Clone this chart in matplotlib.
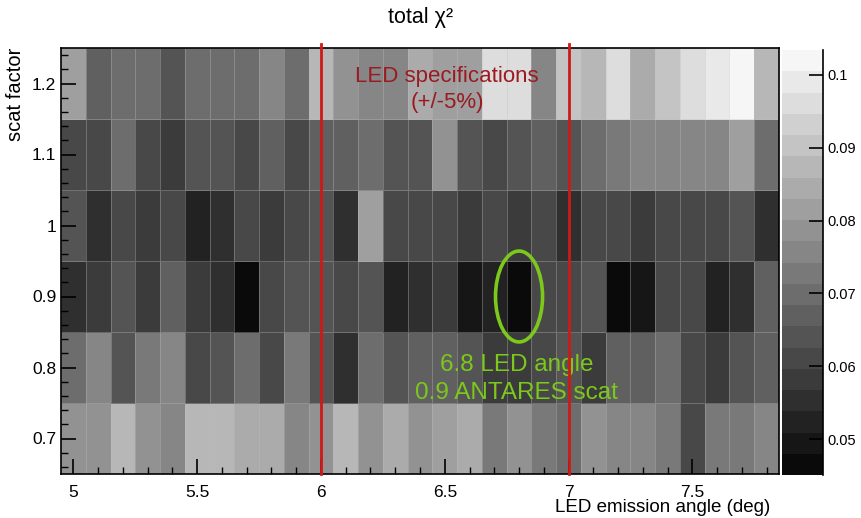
import numpy as np
import matplotlib
matplotlib.use("Agg")
import matplotlib.pyplot as plt
from matplotlib.colors import LinearSegmentedColormap, BoundaryNorm
from matplotlib.patches import Ellipse
from matplotlib.ticker import MultipleLocator

plt.rcParams['font.family'] = ['Liberation Sans', 'DejaVu Sans']

#### data: total chi2 per (LED emission angle, scat factor) bin
angles = [5.0, 5.1, 5.2, 5.3, 5.4, 5.5, 5.6, 5.7, 5.8, 5.9,
          6.0, 6.1, 6.2, 6.3, 6.4, 6.5, 6.6, 6.7, 6.8, 6.9,
          7.0, 7.1, 7.2, 7.3, 7.4, 7.5, 7.6, 7.7, 7.8]
scat = [0.7, 0.8, 0.9, 1.0, 1.1, 1.2]

chi2_070 = [0.0791, 0.0791, 0.0882, 0.0791, 0.0757, 0.0871, 0.0860, 0.0848, 0.0848, 0.0769,
            0.0780, 0.0860, 0.0791, 0.0837, 0.0780, 0.0803, 0.0848, 0.0734, 0.0791, 0.0723,
            0.0689, 0.0791, 0.0769, 0.0746, 0.0723, 0.0598, 0.0734, 0.0734, 0.0757]
chi2_080 = [0.0700, 0.0769, 0.0632, 0.0723, 0.0746, 0.0598, 0.0632, 0.0712, 0.0598, 0.0723,
            0.0655, 0.0564, 0.0689, 0.0655, 0.0666, 0.0666, 0.0655, 0.0587, 0.0587, 0.0609,
            0.0632, 0.0575, 0.0678, 0.0678, 0.0700, 0.0609, 0.0575, 0.0632, 0.0678]
chi2_090 = [0.0552, 0.0587, 0.0655, 0.0587, 0.0678, 0.0587, 0.0541, 0.0477, 0.0621, 0.0632,
            0.0643, 0.0598, 0.0632, 0.0514, 0.0564, 0.0587, 0.0507, 0.0530, 0.0462, 0.0609,
            0.0621, 0.0643, 0.0473, 0.0507, 0.0609, 0.0621, 0.0530, 0.0541, 0.0666]
chi2_100 = [0.0655, 0.0541, 0.0609, 0.0587, 0.0598, 0.0514, 0.0564, 0.0621, 0.0587, 0.0621,
            0.0643, 0.0541, 0.0825, 0.0621, 0.0621, 0.0609, 0.0587, 0.0609, 0.0587, 0.0598,
            0.0564, 0.0621, 0.0609, 0.0587, 0.0621, 0.0609, 0.0621, 0.0643, 0.0564]
chi2_110 = [0.0621, 0.0598, 0.0689, 0.0598, 0.0575, 0.0632, 0.0643, 0.0598, 0.0678, 0.0598,
            0.0666, 0.0666, 0.0689, 0.0632, 0.0632, 0.0791, 0.0643, 0.0621, 0.0655, 0.0666,
            0.0643, 0.0712, 0.0723, 0.0746, 0.0757, 0.0769, 0.0746, 0.0825, 0.0689]
chi2_120 = [0.0825, 0.0666, 0.0689, 0.0689, 0.0632, 0.0689, 0.0700, 0.0689, 0.0746, 0.0700,
            0.0882, 0.0791, 0.0769, 0.0746, 0.0837, 0.0814, 0.0803, 0.0951, 0.0951, 0.0769,
            0.0894, 0.0860, 0.0962, 0.0848, 0.0905, 0.0973, 0.0996, 0.1019, 0.0882]

zmin, zmax, nlev = 0.0451, 0.1034, 20

Z = np.array([chi2_070, chi2_080, chi2_090, chi2_100, chi2_110, chi2_120])
xc = np.array(angles)
yc = np.array(scat)
xe = np.append(xc - 0.05, xc[-1] + 0.05)
ye = np.append(yc - 0.05, yc[-1] + 0.05)

cmap = LinearSegmentedColormap.from_list('rootgray', ['#0a0a0a', '#f6f6f6'])
levels = np.linspace(zmin, zmax, nlev + 1)
norm = BoundaryNorm(levels, cmap.N)

fig = plt.figure(figsize=(8.61, 5.18), dpi=100)
ax = fig.add_axes([61/861, 1 - 474/518, 718/861, 426/518])

ax.pcolormesh(xe, ye, Z, cmap=cmap, norm=norm, edgecolors=(0.75, 0.75, 0.75, 0.35), linewidth=0.6)
ax.set_xlim(xe[0], xe[-1])
ax.set_ylim(ye[0], ye[-1])

# LED specification band
red = '#d01818'
for xv in (6.0, 7.0):
    ax.plot([xv, xv], [ye[0], ye[-1] + 0.006], color=red, lw=2, clip_on=False, zorder=5)
ax.text(6.51, 1.21, 'LED specifications', color='#9a1a22', fontsize=16, ha='center', va='center')
ax.text(6.51, 1.173, '(+/-5%)', color='#9a1a22', fontsize=16, ha='center', va='center')

# best fit marker
green = '#7cc81c'
ax.add_patch(Ellipse((6.8, 0.9), 0.19, 0.128, fill=False, ec=green, lw=2.6, zorder=6))
ax.text(6.79, 0.8035, '6.8 LED angle', color=green, fontsize=17.5, ha='center', va='center')
ax.text(6.79, 0.764, '0.9 ANTARES scat', color=green, fontsize=17.5, ha='center', va='center')

# ROOT-like axes
ax.xaxis.set_major_locator(MultipleLocator(0.5))
ax.xaxis.set_minor_locator(MultipleLocator(0.1))
ax.yaxis.set_major_locator(MultipleLocator(0.1))
ax.yaxis.set_minor_locator(MultipleLocator(0.02))
ax.tick_params(which='both', direction='in', top=False, right=False, labelsize=12.5)
ax.tick_params(which='major', length=11, width=1.2)
ax.tick_params(which='minor', length=5, width=1)
ax.tick_params(axis='x', pad=8)
ax.set_xticks([5, 5.5, 6, 6.5, 7, 7.5])
ax.set_xticklabels(['5', '5.5', '6', '6.5', '7', '7.5'])
ax.set_yticks([0.7, 0.8, 0.9, 1.0, 1.1, 1.2])
ax.set_yticklabels(['0.7', '0.8', '0.9', '1', '1.1', '1.2'])
for s in ax.spines.values():
    s.set_linewidth(1.2)

fig.text(420/861, 1 - 18/518, 'total χ²', fontsize=15.5, ha='center', va='center')
fig.text(770/861, 1 - 508/518, 'LED emission angle (deg)', fontsize=13.5, ha='right', va='center')
fig.text(16/861, 1 - 48/518, 'scat factor', fontsize=14.5, rotation=90, ha='center', va='top')

# colour palette axis
cax = fig.add_axes([782/861, 1 - 475/518, 41/861, 425/518])
cb = fig.colorbar(plt.cm.ScalarMappable(norm=norm, cmap=cmap), cax=cax, ticks=[0.05, 0.06, 0.07, 0.08, 0.09, 0.1])
cb.outline.set_visible(False)
cax.spines['right'].set_visible(True)
cax.spines['right'].set_linewidth(1.2)
cb.ax.set_yticklabels(['0.05', '0.06', '0.07', '0.08', '0.09', '0.1'])
cax.tick_params(direction='in', length=10, width=1.2, labelsize=10.5, pad=3)
cax.minorticks_off()

fig.savefig('out.png', dpi=100)
